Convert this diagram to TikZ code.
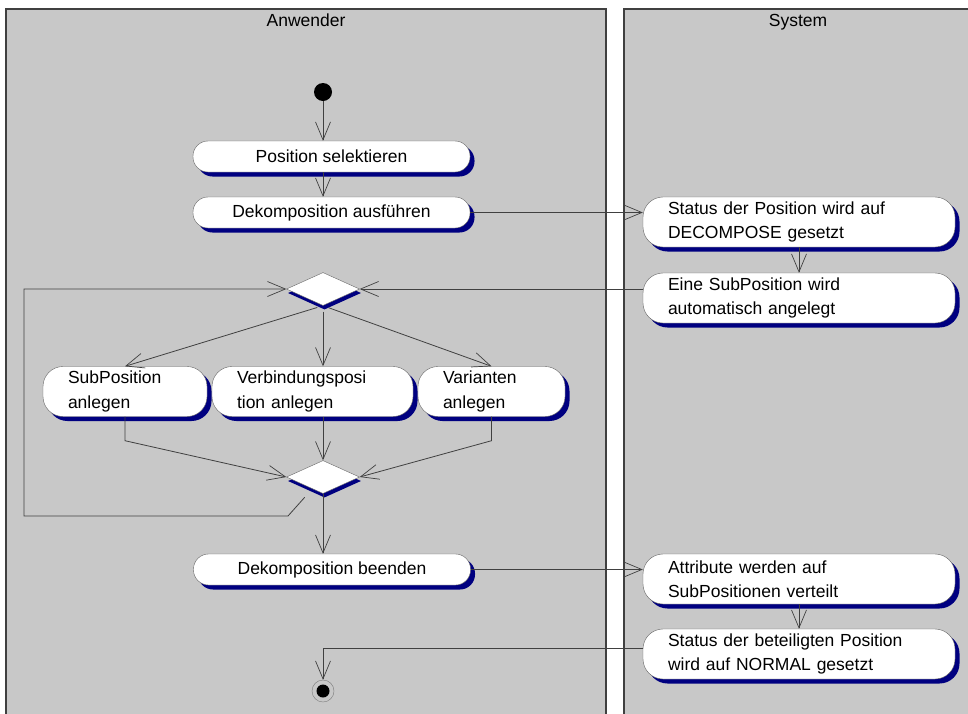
\documentclass[tikz,border=0pt]{standalone}
\usepackage{fontspec}
\setmainfont{Liberation Sans}
\usetikzlibrary{arrows.meta,shapes.geometric,shadows,positioning}

\definecolor{bahn}{RGB}{200,200,200}
\definecolor{rand}{RGB}{64,64,64}
\definecolor{schatten}{RGB}{0,0,128}

\begin{document}
\begin{tikzpicture}[x=1pt,y=-1pt,
        every node/.style={font=\fontsize{17.5}{24.5}\selectfont},
        aktion/.style={draw=rand!80, fill=white, rounded corners=15pt, minimum width=277pt,
            minimum height=31pt, inner sep=2pt,
            drop shadow={shadow xshift=4.5pt, shadow yshift=-4.5pt, fill=schatten, opacity=1}},
        lang/.style={aktion, rounded corners=20pt, minimum width=0pt, minimum height=50pt,
            align=left, inner xsep=25pt, text width=#1},
        raute/.style={diamond, draw=rand!80, fill=white, minimum width=73pt, minimum height=33pt,
            inner sep=0pt,
            drop shadow={shadow xshift=1.5pt, shadow yshift=-4pt, fill=schatten, opacity=1}},
        pfeil/.style={draw=rand, line width=0.8pt,
            -{Straight Barb[length=18pt,width=15pt,line width=0.7pt]}}]
    \useasboundingbox (0,0) rectangle (968,713);

    % Schwimmbahnen
    \begin{scope}
        \clip (0,0) rectangle (968,713);
        \fill[white] (0,0) rectangle (968,713);
        \draw[rand, fill=bahn, line width=1.3pt] (6,9) rectangle (606,730);
        \draw[rand, fill=bahn, line width=1.3pt] (624,9) rectangle (990,730);
    \end{scope}
    \node (anwender) at (306,20) {Anwender};
    \node (system) at (798,22) {System};

    % Anwender
    \node[circle, fill=black, minimum size=18pt, inner sep=0pt] (start) at (323,92) {};
    \node[aktion] (a1) at (331.5,156.5) {Position selektieren};
    \node[aktion] (a2) at (331.5,212.5) {Dekomposition ausführen};
    \node[raute] (d1) at (323,289) {};
    \node[lang=114pt] (sub) at (125,391.5) {SubPosition\\anlegen};
    \node[lang=151pt] (verb) at (312.5,391.5) {Verbindungsposi\\tion anlegen};
    \node[lang=97pt] (var) at (491.5,391.5) {Varianten\\anlegen};
    \node[raute] (d2) at (323,477) {};
    \node[aktion] (a3) at (332,569.5) {Dekomposition beenden};
    \node[circle, draw=rand!70, fill=bahn, minimum size=22pt, inner sep=0pt] (ende) at (323,691) {};
    \node[circle, fill=black, minimum size=13pt, inner sep=0pt] (endekern) at (ende) {};

    % System
    \node[lang=262pt] (r1) at (799,222) {Status der Position wird auf\\DECOMPOSE gesetzt};
    \node[lang=262pt] (r2) at (799,298) {Eine SubPosition wird\\automatisch angelegt};
    \node[lang=262pt] (r3) at (799,579) {Attribute werden auf\\SubPositionen verteilt};
    \node[lang=262pt] (r4) at (799,654) {Status der beteiligten Position\\wird auf NORMAL gesetzt};

    \coordinate (schleife) at (24,516);

    \draw[pfeil] (start) -- (start |- a1.north);
    \draw[pfeil] (start |- a1.south) -- (start |- a2.north);
    \draw[pfeil] (a2.east) -- (a2.east -| r1.west);
    \draw[pfeil] (r1.south) -- (r2.north);
    \draw[pfeil] (r2.west |- d1.east) -- (d1.east);
    \draw[pfeil, shorten <=6pt] (d1.south) -- (sub.north);
    \draw[pfeil, shorten <=6pt] (d1.south) -- (d1.south |- verb.north);
    \draw[pfeil, shorten <=6pt] (d1.south) -- (var.north);
    \draw[pfeil] (sub.south) -- ++(0,24) -- (d2.west);
    \draw[pfeil] (d2.north |- verb.south) -- (d2.north);
    \draw[pfeil] (var.south) -- ++(0,24) -- (d2.east);
    \draw[pfeil] ([yshift=-12pt]d2.south west) -- (schleife -| 288,0) -- (schleife) |- (d1.west);
    \draw[pfeil] (d2.south) -- (d2.south |- a3.north);
    \draw[pfeil] (a3.east) -- (a3.east -| r3.west);
    \draw[pfeil] (r3.south) -- (r4.north);
    \draw[pfeil] ([yshift=6pt]r4.west) -| (ende.north);
\end{tikzpicture}
\end{document}
